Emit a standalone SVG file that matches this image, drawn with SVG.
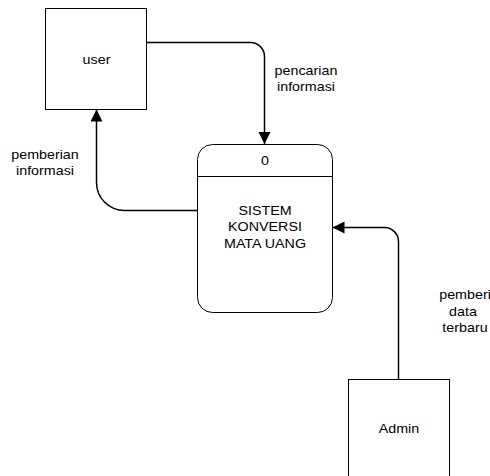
<svg xmlns="http://www.w3.org/2000/svg" width="490" height="476" viewBox="0 0 490 476">
<style>
.box{fill:#fff;stroke:#000;stroke-width:1}
.conn{fill:none;stroke:#000;stroke-width:1.5}
text{font-family:"Liberation Sans",Arial,sans-serif;font-size:13px;fill:#000;text-anchor:middle}
</style>
<defs>
<marker id="arr" markerUnits="userSpaceOnUse" markerWidth="13" markerHeight="13" refX="12" refY="6" orient="auto">
<path d="M0,0 L12,6 L0,12 z" fill="#000"/>
</marker>
</defs>
<rect width="490" height="476" fill="#fff"/>
<g id="connectors">
<path class="conn" d="M146.5 42.5 H250.5 A14 14 0 0 1 264.5 56.5 V144" marker-end="url(#arr)"/>
<path class="conn" d="M197.5 210.5 H124.5 A28 28 0 0 1 96.5 182.5 V109.5" marker-end="url(#arr)"/>
<path class="conn" d="M398.5 379 V241.5 A14 14 0 0 0 384.5 227.5 H332.5" marker-end="url(#arr)"/>
<text transform="translate(306,75) scale(1.1,1)">pencarian</text>
<text transform="translate(306,91) scale(1.1,1)">informasi</text>
<text transform="translate(45,159) scale(1.1,1)">pemberian</text>
<text transform="translate(45,175) scale(1.1,1)">informasi</text>
<text transform="translate(465,299) scale(1.1,1)">pemberi</text>
<text transform="translate(463,315.5) scale(1.1,1)">data</text>
<text transform="translate(465,332) scale(1.1,1)">terbaru</text>
</g>
<g id="user">
<rect class="box" x="45.5" y="8.5" width="101" height="101"/>
<text transform="translate(96.5,64) scale(1.1,1)">user</text>
</g>
<g id="process">
<rect class="box" x="197.5" y="144.5" width="135" height="168" rx="15" ry="15"/>
<line x1="197.5" y1="176.5" x2="332.5" y2="176.5" stroke="#000" stroke-width="1"/>
<text transform="translate(265,165) scale(1.1,1)">0</text>
<text transform="translate(265,214.5) scale(1.1,1)">SISTEM</text>
<text transform="translate(265,231) scale(1.1,1)">KONVERSI</text>
<text transform="translate(265,247.5) scale(1.1,1)">MATA UANG</text>
</g>
<g id="admin">
<rect class="box" x="348.5" y="379.5" width="101" height="101"/>
<text transform="translate(399,433) scale(1.1,1)">Admin</text>
</g>
</svg>
